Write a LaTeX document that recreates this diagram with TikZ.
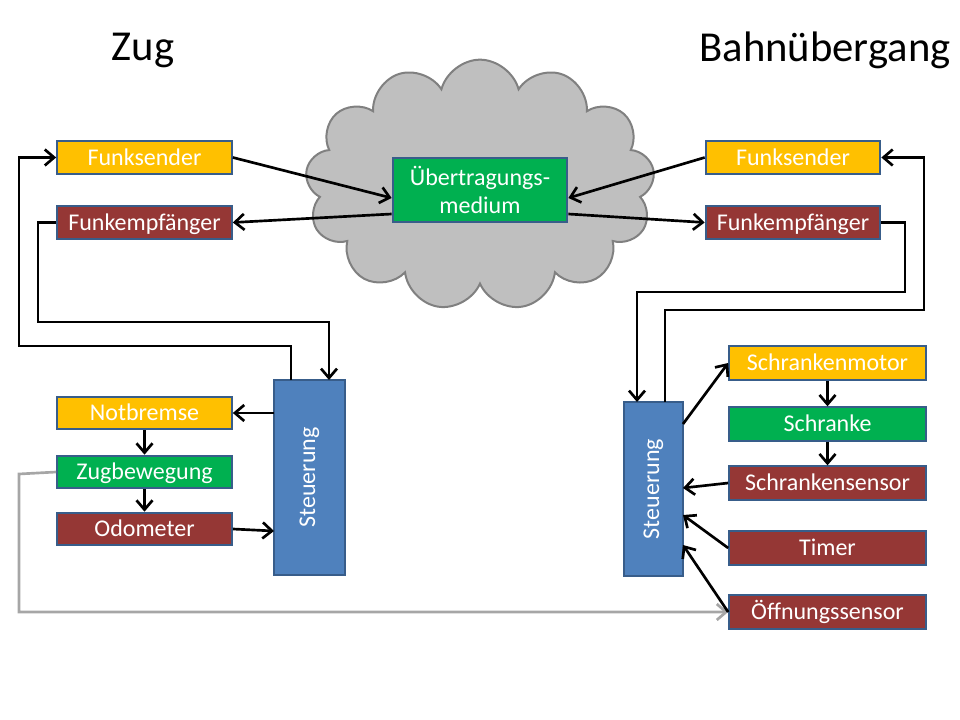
\documentclass[tikz,border=0pt]{standalone}
\usepackage{fontspec}
\setmainfont{Carlito}
\usepackage{graphicx}
\usetikzlibrary{arrows.meta,positioning,shapes.symbols}
\definecolor{senderyellow}{HTML}{FFC000}
\definecolor{receiverred}{HTML}{953735}
\definecolor{mediumgreen}{HTML}{00B050}
\definecolor{controlblue}{HTML}{4F81BD}
\definecolor{boxline}{HTML}{385D8A}
\definecolor{cloudline}{HTML}{808080}
\definecolor{feedback}{HTML}{A6A6A6}
\tikzset{
  boxbase/.style  = {shape=rectangle, draw=boxline, line width=1.5pt,
                     text=white, inner sep=0pt,
                     font=\fontsize{18}{21}\selectfont,
                     minimum width=131pt, minimum height=24.5pt},
  block/.style    = {boxbase, text height=12pt, text depth=0.5pt},
  sender/.style   = {block, fill=senderyellow},
  receiver/.style = {block, fill=receiverred},
  medium/.style   = {block, fill=mediumgreen},
  control/.style  = {boxbase, fill=controlblue},
  gate/.style     = {minimum width=147.5pt, minimum height=25pt},
  heading/.style  = {font=\fontsize{32}{38}\selectfont}
}

\begin{document}
\begin{tikzpicture}[x=0.75pt,y=-0.75pt,->,>={Straight Barb[length=7pt,width=12pt]},
   line width=2pt]
\useasboundingbox (0,0) rectangle (960,720);
% Wolke
\node [cloud, cloud puffs=13, aspect=1.4, draw=cloudline, line width=1.5pt,
   fill=gray!50, minimum width=262pt, minimum height=188pt] (wolke) at (480,185) {};
\node [heading] (zug) at (143,50) {Zug};
\node [heading] (bue) at (825,50) {Bahnübergang};
% Zug
\node [sender]   (fsL) at (144.5,157.5) {Funksender};
\node [receiver] (feL) at (144.5,222.5) {Funkempfänger};
\node [sender]   (nb)  at (144.5,413) {Notbremse};
\node [medium]   (zb)  at (144.5,472) {Zugbewegung};
\node [receiver] (od)  at (144.5,529) {Odometer};
\node [control, minimum width=53pt, minimum height=146pt] (stL) at (309.5,477.5)
   {\rotatebox{90}{Steuerung}};
% Medium
\node [boxbase, fill=mediumgreen, align=center, minimum height=48pt] (med) at (480,190)
   {Übertragungs-\\medium};
% Bahnuebergang
\node [sender]   (fsR) at (793,157.5) {Funksender};
\node [receiver] (feR) at (793,222.5) {Funkempfänger};
\node [control, minimum width=44pt, minimum height=130.5pt] (stR) at (653.5,489)
   {\rotatebox{90}{Steuerung}};
\node [sender, gate]   (sm) at (827.5,363) {Schrankenmotor};
\node [medium, gate]   (sk) at (827.5,424) {Schranke};
\node [receiver, gate] (ss) at (827.5,483) {Schrankensensor};
\node [receiver, gate] (ti) at (827.5,548) {Timer};
\node [receiver, gate] (os) at (827.5,612) {Öffnungssensor};

% Funk
\draw (fsL.east) -- ([yshift=-6pt]med.west);
\draw ([yshift=-18pt]med.west) -- (feL.east);
\draw (fsR.west) -- ([yshift=-6pt]med.east);
\draw ([yshift=-18pt]med.east) -- (feR.west);
% Zug-Steuerung
\draw (feL.west) -- (38,222.5) -- (38,322) -| (329,380);
\draw (291,380) -- (291,346) -- (19,346) |- (fsL.west);
\draw (274,413) -- (nb.east);
\draw (nb) -- (zb);
\draw (zb) -- (od);
\draw (od.east) -- (274,531);
\draw [feedback] (zb.west) -- (19,474) |- (os.west);
% BUE-Steuerung
\draw (feR.east) -- (905,222.5) -- (905,292) -| (637,402);
\draw (665,402) -- (665,310) -- (924,310) |- (fsR.east);
\draw (683,424) -- (sm.west);
\draw (sm) -- (sk);
\draw (sk) -- (ss);
\draw (ss.west) -- (683,488);
\draw (ti.west) -- (683,515);
\draw (os.west) -- (683,545);
\end{tikzpicture}
\end{document}
